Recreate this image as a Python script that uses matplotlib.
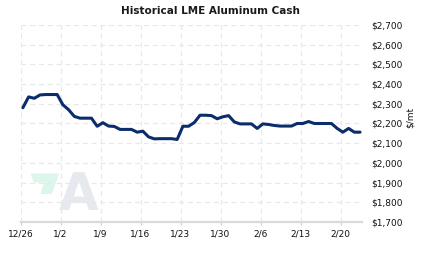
import matplotlib
matplotlib.use("Agg")
import matplotlib.pyplot as plt
import matplotlib.dates as mdates
from matplotlib.patches import Polygon
import pandas as pd

title = "Historical LME Aluminum Cash"
start_date = "2017-12-26"
values = [2280, 2335, 2328, 2345, 2347, 2347, 2347, 2295, 2270, 2236,
          2227, 2227, 2227, 2186, 2204, 2187, 2185, 2170, 2170, 2170,
          2156, 2161, 2132, 2122, 2123, 2123, 2123, 2119, 2186, 2186,
          2205, 2242, 2242, 2240, 2224, 2234, 2240, 2208, 2198, 2198,
          2198, 2175, 2198, 2195, 2190, 2187, 2187, 2187, 2200, 2200,
          2210, 2200, 2200, 2200, 2200, 2175, 2156, 2175, 2156, 2156]
xtick_labels = ["12/26", "1/2", "1/9", "1/16", "1/23", "1/30", "2/6", "2/13", "2/20"]
ytick_values = [1700, 1800, 1900, 2000, 2100, 2200, 2300, 2400, 2500, 2600, 2700]
ylabel = "$/mt"

dates = pd.date_range(start_date, periods=len(values)) + pd.Timedelta(hours=10)
d0 = mdates.date2num(pd.Timestamp(start_date))

W, H = 423, 257
fig = plt.figure(figsize=(W / 100, H / 100), dpi=100)
left, right, top, bottom = 20.5, 362, 25, 222
ax = fig.add_axes([left / W, 1 - bottom / H, (right - left) / W, (bottom - top) / H])

ax.plot(mdates.date2num(dates), values, color="#0b2d6b", linewidth=2.2,
        solid_joinstyle="round", solid_capstyle="round", zorder=3)

ax.set_ylim(1700, 2700)
ax.set_xlim(d0, d0 + 59.76)
ax.set_xticks([d0 + 7 * i for i in range(len(xtick_labels))])
ax.set_xticklabels(xtick_labels)
ax.set_yticks(ytick_values)
ax.set_yticklabels(["${:,}".format(v) for v in ytick_values])

ax.set_axisbelow(True)
ax.grid(True, color="#e8e8e8", linestyle=(0, (4, 3)), linewidth=0.9)
for s in ["top", "left", "right"]:
    ax.spines[s].set_visible(False)
ax.spines["bottom"].set_color("#dadada")
ax.spines["bottom"].set_linewidth(1.6)

ax.yaxis.tick_right()
ax.tick_params(axis="y", length=0, pad=6.5, labelsize=6.5, labelcolor="#111111")
ax.tick_params(axis="x", length=2.5, width=0.8, color="#cccccc", pad=3,
               labelsize=6.5, labelcolor="#111111")

# watermark
def px(x, y):
    return (x / W, 1 - y / H)

poly = Polygon([px(30.5, 173.5), px(59, 173.5), px(52, 194), px(40.5, 194),
                px(44, 182.5), px(34, 182.5)],
               closed=True, facecolor="#dcf6eb", edgecolor="none",
               transform=fig.transFigure, zorder=0.2)
ax.add_patch(poly)
ax.text(*px(79, 210.5), "A", transform=fig.transFigure, ha="center", va="baseline",
        fontsize=37, fontweight="bold", color="#e6e9ee", zorder=0.2)

fig.text(210 / W, 1 - 11 / H, title, ha="center", va="center",
         fontsize=7.5, fontweight="bold", color="#1a1a1a")
fig.text(410 / W, 1 - 117 / H, ylabel, rotation=90, ha="center", va="center",
         fontsize=6.5, color="#111111")

fig.savefig("out.png", dpi=100)
